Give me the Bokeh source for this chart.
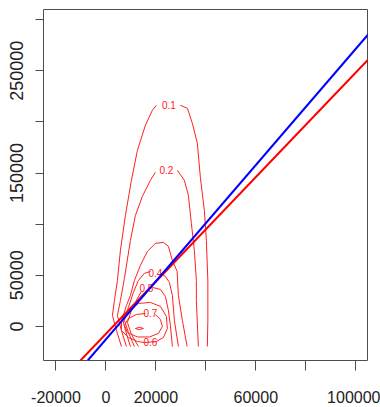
from bokeh.plotting import figure
from bokeh.models import Range1d, FixedTicker, Slope
from bokeh.embed import file_html
from bokeh.resources import INLINE

nan = float("nan")

# Axis ticks and the labels that are printed (blank where labels would collide)
x_ticks = [-20000, 0, 20000, 40000, 60000, 80000, 100000]
x_tick_labels = ["-20000", "0", "20000", "", "60000", "", "100000"]
y_ticks = [0, 50000, 100000, 150000, 200000, 250000, 300000]
y_tick_labels = ["0", "50000", "", "150000", "", "250000", ""]

# Fitted regression lines (intercept, slope)
red_fit = (-7240, 2.555)
blue_fit = (-12625, 2.84)

# Density contour levels: traced points (NaN marks the gap for the label)
c01_x = [6200, 4200, 2600, 3400, 4600, 5800, 7800, 10200, 12600, 15800, 18600, 20200, nan,
         29800, 32600, 34600, 36600, 37800, 39400, 40200, 40800, 40800, 40600]
c01_y = [-19600, -3900, 10800, 25400, 45000, 74400, 108600, 142900, 172200, 196700, 211400, 216250, nan,
         216250, 213300, 198600, 179100, 145800, 113500, 84100, 45000, 5900, -19600]
c02_x = [8200, 6200, 4600, 5800, 7400, 9800, 11800, 14600, 17800, 19800, nan,
         28600, 31400, 33000, 34200, 35400, 36200, 36200, 37000]
c02_y = [-19600, -3900, 10800, 25400, 47000, 84100, 108600, 127200, 142900, 150700, nan,
         152600, 142900, 128200, 100800, 74400, 45000, 25400, -19600]
c03_x = [9800, 7800, 6600, 8200, 9800, 11400, 13800, 16600, 19800, 23000, 25000, 26600, 28500, 29000, 30600, 32500]
c03_y = [-19600, -3900, 7800, 20500, 30300, 45000, 59700, 73400, 81200, 82200, 78300, 64600, 53800, 30300, 5900, -19600]
c04_x = [11400, 9000, 7400, 9000, 11000, 13000, 15400, 17800, nan, 21800, 23800, 25400, 26600, 27400, 29000]
c04_y = [-19600, -5900, 5900, 18600, 33300, 45000, 51900, 53800, nan, 51900, 48900, 43100, 30300, 5900, -19600]
c05_x = [13000, 10200, 8600, 10200, 12600, 14200, nan, 18600, 21800, 23800, 25000, 25800, 26600]
c05_y = [-19600, -7800, 3900, 15700, 27400, 34200, nan, 38200, 36200, 29400, 15700, 1000, -19600]
c06_x = [20200, 23000, 24600, 24200, 21800, 17800, 13000, 9000, 6200, 6200, 9000, 12600, 15400]
c06_y = [-14700, -10800, -2000, 9800, 19600, 23500, 22500, 15700, 5900, -3900, -10800, -14700, -15700]
c07_x = [19800, 21800, 22600, 21000, 17400, 12600, 8600, 7400, 9000, 12200, 15800]
c07_y = [11700, 6800, 0, -6800, -10300, -10300, -5900, 1000, 7800, 11700, 12700]
c08_x = [15000, 13400, 11800, 13400, 15000]
c08_y = [-2000, -3100, -2000, -800, -2000]

# Where each level's label sits
label_x = [25200, 24200, 19800, 16200, 17800, 17800]
label_y = [216250, 152600, 51900, 37200, -15200, 12700]
label_text = ["0.1", "0.2", "0.4", "0.5", "0.6", "0.7"]

p = figure(width=380, height=407, output_backend="svg", toolbar_location=None,
           x_range=Range1d(-25000, 104720), y_range=Range1d(-33300, 309900),
           min_border_left=43, min_border_right=13, min_border_top=9, min_border_bottom=47)
p.background_fill_color = "white"
p.border_fill_color = "white"
p.grid.visible = False
p.outline_line_color = "#4d4d4d"
p.outline_line_width = 1

for ax, ticks, labels, tout, stand, fsize in (
        (p.xaxis, x_ticks, x_tick_labels, 10, 20, "16px"),
        (p.yaxis, y_ticks, y_tick_labels, 8, 12, "18px")):
    ax.ticker = FixedTicker(ticks=ticks)
    ax.major_label_overrides = {t: s for t, s in zip(ticks, labels)}
    ax.axis_line_color = None
    ax.major_tick_line_color = "#4d4d4d"
    ax.major_tick_in = 0
    ax.major_tick_out = tout
    ax.minor_tick_line_color = None
    ax.major_label_standoff = stand
    ax.major_label_text_font_size = fsize
    ax.major_label_text_color = "#222222"
p.xaxis.major_label_text_font = "Liberation Sans Narrow, Liberation Sans"
p.yaxis.major_label_text_font = "Liberation Sans"
p.yaxis.major_label_orientation = "vertical"

contours = [(c01_x, c01_y), (c02_x, c02_y), (c03_x, c03_y), (c04_x, c04_y),
            (c05_x, c05_y), (c06_x + c06_x[:1], c06_y + c06_y[:1]),
            (c07_x, c07_y), (c08_x, c08_y)]
for cx, cy in contours:
    p.line(cx, cy, line_color="#ff2020", line_width=1)

p.text(x=label_x, y=label_y, text=label_text, text_color="#ff2020",
       text_font_size="10px", text_align="center", text_baseline="middle",
       text_font={"value": "Liberation Sans"})

p.add_layout(Slope(gradient=red_fit[1], y_intercept=red_fit[0], line_color="#ff0000", line_width=2))
p.add_layout(Slope(gradient=blue_fit[1], y_intercept=blue_fit[0], line_color="#0000ff", line_width=2))

open("out.html", "w").write(file_html(p, INLINE))
